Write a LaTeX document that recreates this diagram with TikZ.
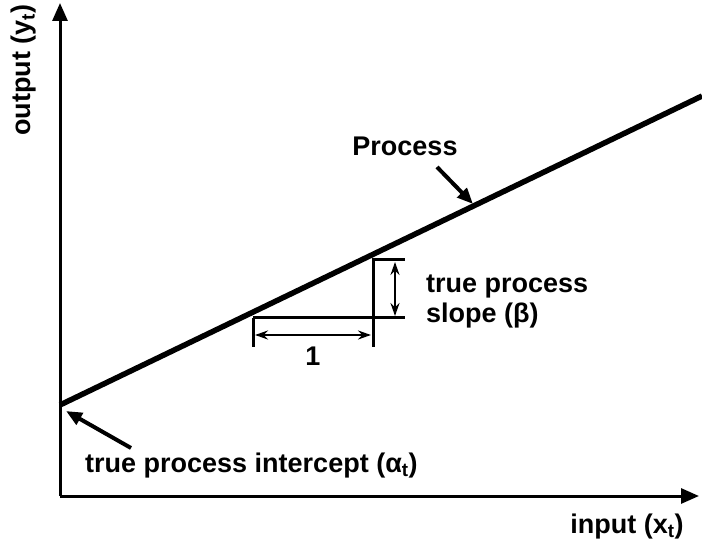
\documentclass[tikz,border=0pt]{standalone}
\usepackage{fontspec}
\setmainfont{Liberation Sans}
\usetikzlibrary{arrows.meta}
\begin{document}
\begin{tikzpicture}[x=1pt,y=-1pt,
  axis/.style={line width=3pt,-{Triangle[length=18pt,width=15pt]}},
  proc/.style={line width=5.5pt},
  thin/.style={line width=3pt},
  dim/.style={line width=2.5pt,{Stealth[length=13pt,width=9pt]}-{Stealth[length=13pt,width=9pt]}},
  pointer/.style={line width=4pt,-{Triangle[length=16pt,width=13pt]}},
  lbl/.style={font=\fontsize{27}{30}\selectfont\bfseries, inner sep=0pt}]
\useasboundingbox (0,0) rectangle (702,548);
\coordinate (O) at (60,496);
\coordinate (Ytop) at (60,3);
\coordinate (Xend) at (699,496);
\draw[axis] (O) -- (Ytop);
\draw[axis] (O) -- (Xend);
\coordinate (P0) at (60,405);
\coordinate (P1) at (702,96);
\draw[proc] (P0) -- (P1);
% triangle
\coordinate (A) at (253,318);
\coordinate (B) at (373,318);
\coordinate (C) at (373,260);
\coordinate (Bext) at (405,318);
\coordinate (Cext) at (405,260);
\draw[thin] (A) -- (Bext);
\draw[thin] (B) -- (C) -- (Cext);
\draw[dim] (395,262) -- (395,316);
\draw[thin] (A) -- (253,347);
\draw[thin] (B) -- (373,347);
\draw[dim] (255,335) -- (371,335);
\node[lbl] (one) at (313,356) {1};
\node[lbl, align=left, anchor=west] (slope) at (426,301) {true process\\slope (β)};
\node[lbl] (proc) at (405,146) {Process};
\draw[pointer] (437,167) -- (473,204);
\node[lbl, anchor=west] (icpt) at (85,466) {true process intercept (α\textsubscript{t})};
\draw[pointer] (131,448) -- (66,411);
\node[lbl, rotate=90] (yl) at (24,70) {output (y\textsubscript{t})};
\node[lbl] (xl) at (627,527) {input (x\textsubscript{t})};
\end{tikzpicture}
\end{document}
